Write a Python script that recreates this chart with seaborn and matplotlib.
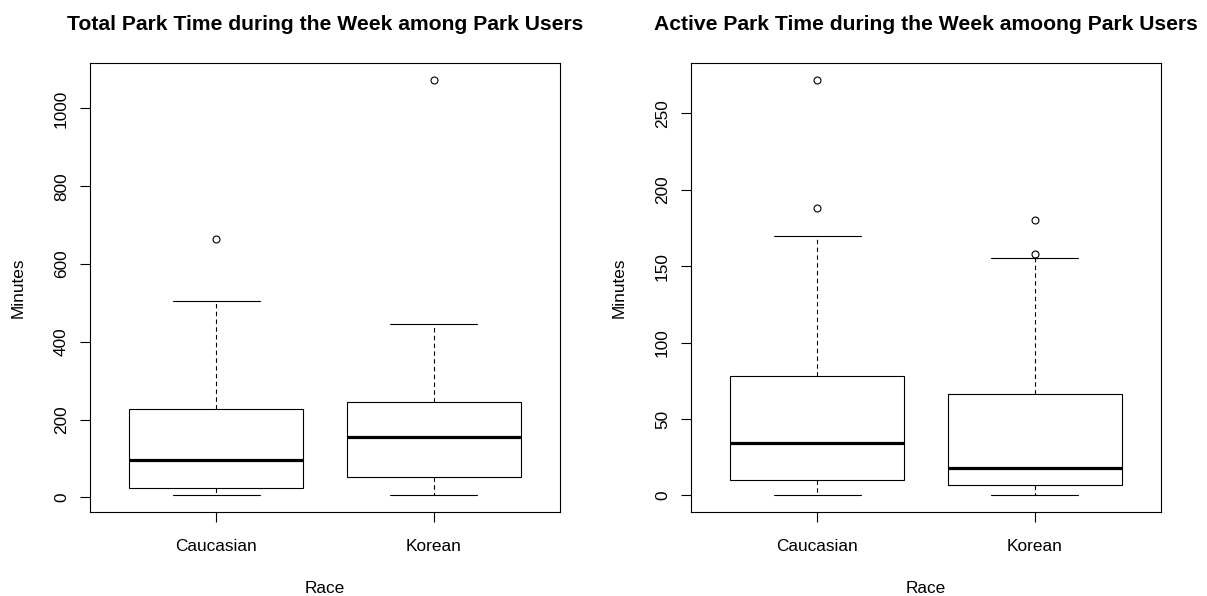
import numpy as np
import pandas as pd
import matplotlib
matplotlib.use("Agg")
import matplotlib.pyplot as plt
import seaborn as sns

# Five-number summaries (minutes per week) with outlying observations
categories = ["Caucasian", "Korean"]

total_low = [5, 5]
total_q1 = [25, 53]
total_median = [95, 154]
total_q3 = [226, 244]
total_high = [505, 446]
total_outliers = [[664], [1074]]

active_low = [0, 0]
active_q1 = [10, 7]
active_median = [34, 18]
active_q3 = [78, 66.5]
active_high = [170, 155.5]
active_outliers = [[188, 272], [158, 180]]

titles = ["Total Park Time during the Week among Park Users",
          "Active Park Time during the Week amoong Park Users"]
total_ticks = [0, 200, 400, 600, 800, 1000]
active_ticks = [0, 50, 100, 150, 200, 250]


def summary_sample(low, q1, med, q3, high, outliers):
    """13-value sample whose quartiles, whiskers and fliers equal the summary."""
    k = len(outliers)
    return ([low] + [q1] * 3 + [med] * 3 + [q3] * 3
            + [high] * (3 - k) + sorted(outliers))


def long_frame(low, q1, med, q3, high, outs):
    rows = []
    for i, cat in enumerate(categories):
        for v in summary_sample(low[i], q1[i], med[i], q3[i], high[i], outs[i]):
            rows.append({"Race": cat, "Minutes": v})
    return pd.DataFrame(rows)


total_df = long_frame(total_low, total_q1, total_median, total_q3,
                      total_high, total_outliers)
active_df = long_frame(active_low, active_q1, active_median, active_q3,
                       active_high, active_outliers)

sns.set_style("white")
plt.rcParams["font.family"] = ["Liberation Sans", "DejaVu Sans"]
plt.rcParams["text.color"] = "black"
plt.rcParams["axes.labelcolor"] = "black"

W, H = 1207, 596
fig = plt.figure(figsize=(W / 100, H / 100), dpi=100)
fig.patch.set_facecolor("white")

panels = [(total_df, total_ticks, 90), (active_df, active_ticks, 691)]
line_w = 0.8

for (df, ticks, left_px), title in zip(panels, titles):
    ax = fig.add_axes([left_px / W, (H - 512) / H, 470 / W, 449 / H])
    sns.boxplot(
        data=df, x="Race", y="Minutes", order=categories, ax=ax,
        color="white", linecolor="black", linewidth=line_w, width=0.8,
        whis=1.5, fill=True,
        medianprops=dict(linewidth=2.3, color="black"),
        whiskerprops=dict(linestyle=(0, (4, 3)), linewidth=line_w),
        capprops=dict(linewidth=line_w),
        flierprops=dict(marker="o", markerfacecolor="none",
                        markeredgecolor="black", markersize=5,
                        markeredgewidth=0.8),
        capwidths=0.4,
    )
    vals = df["Minutes"].to_numpy()
    span = vals.max() - vals.min()
    ax.set_ylim(vals.min() - 0.04 * span, vals.max() + 0.04 * span)
    ax.set_xlim(-0.58, 1.58)
    ax.set_yticks(ticks)
    ax.set_yticklabels([str(t) for t in ticks], rotation=90, va="center")
    ax.tick_params(axis="both", direction="out", length=7.2, width=0.8,
                   color="black", labelsize=12.4, labelcolor="black",
                   left=True, bottom=True)
    ax.tick_params(axis="x", pad=12)
    ax.tick_params(axis="y", pad=8)
    for sp in ax.spines.values():
        sp.set_visible(True)
        sp.set_color("black")
        sp.set_linewidth(0.8)
    ax.set_xlabel("Race", fontsize=12.4, va="center")
    ax.set_ylabel("Minutes", fontsize=12.4, va="center")
    ax.xaxis.set_label_coords(0.5, -0.171)
    ax.yaxis.set_label_coords(-0.152, 0.5)
    ax.set_title(title, fontsize=15.2, fontweight="bold", pad=24)

fig.savefig("out.png", dpi=100, facecolor="white")
